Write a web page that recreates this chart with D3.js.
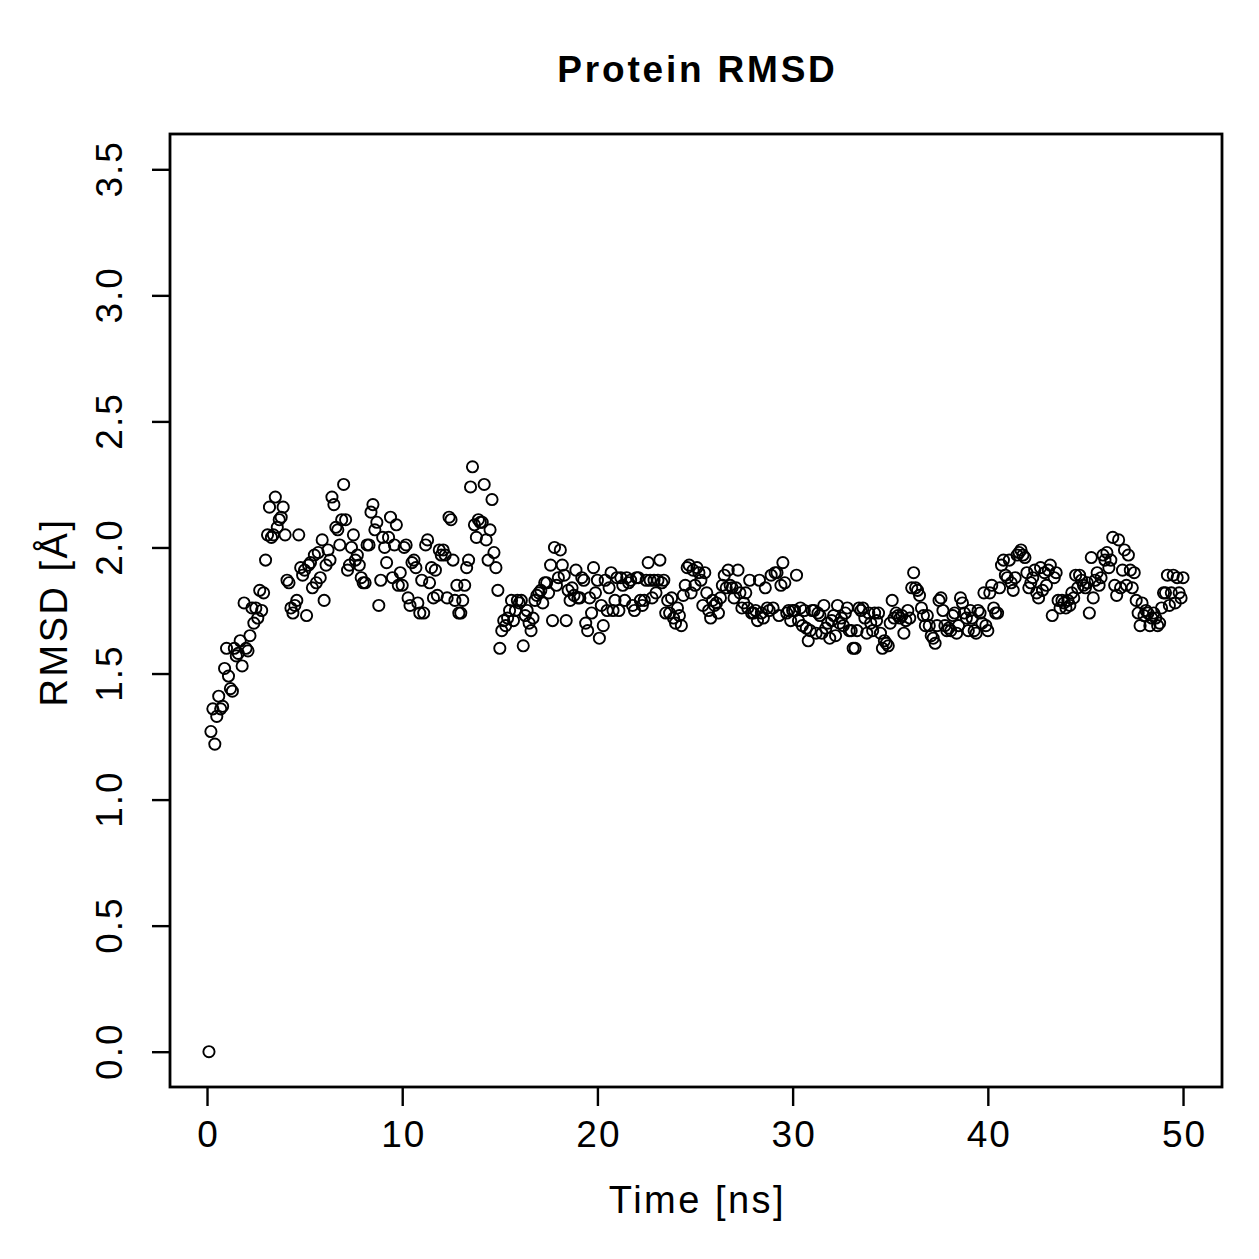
<!DOCTYPE html>
<html>
<head>
<meta charset="utf-8">
<script src="https://cdn.jsdelivr.net/npm/d3@7"></script>
<style>
  html, body { margin: 0; padding: 0; background: #fff; }
  svg { display: block; }
  text { font-family: "Liberation Sans", Arial, Helvetica, sans-serif; fill: #000; }
</style>
</head>
<body>
<svg id="chart" width="1259" height="1259"></svg>
<script>
// ---- data ----
const titleText = "Protein RMSD";
const xLabel = "Time [ns]";
const yLabel = "RMSD [Å]";
const timeStart = 0.1;   // ns, first frame
const timeStep = 0.1;    // ns between frames
const xTicks = [0, 10, 20, 30, 40, 50];
const yTicks = [0.0, 0.5, 1.0, 1.5, 2.0, 2.5, 3.0, 3.5];
const yLimits = [0, 3.5];
const rmsd = [
  0.00,1.27,1.36,1.22,1.33,1.41,1.36,1.37,1.52,1.60,
  1.49,1.44,1.43,1.60,1.57,1.58,1.63,1.53,1.78,1.60,
  1.59,1.65,1.76,1.70,1.76,1.72,1.83,1.75,1.82,1.95,
  2.05,2.16,2.04,2.05,2.20,2.08,2.11,2.12,2.16,2.05,
  1.87,1.86,1.76,1.74,1.77,1.79,2.05,1.92,1.89,1.91,
  1.73,1.93,1.94,1.84,1.97,1.86,1.98,1.88,2.03,1.79,
  1.93,1.99,1.95,2.20,2.17,2.08,2.07,2.01,2.11,2.25,
  2.11,1.91,1.93,2.00,2.05,1.95,1.97,1.93,1.88,1.86,
  1.86,2.01,2.01,2.14,2.17,2.07,2.10,1.77,1.87,2.04,
  2.00,1.94,2.04,2.12,1.88,2.01,2.09,1.85,1.90,1.85,
  2.00,2.01,1.80,1.77,1.94,1.95,1.92,1.78,1.74,1.87,
  1.74,2.01,2.03,1.86,1.92,1.80,1.91,1.81,1.99,1.97,
  1.99,1.97,1.80,2.12,2.11,1.95,1.79,1.85,1.74,1.74,
  1.79,1.85,1.92,1.95,2.24,2.32,2.09,2.04,2.11,2.10,
  2.10,2.25,2.03,1.95,2.07,2.19,1.98,1.92,1.83,1.60,
  1.67,1.71,1.69,1.72,1.75,1.79,1.71,1.75,1.79,1.78,
  1.79,1.61,1.73,1.75,1.70,1.67,1.72,1.79,1.81,1.82,
  1.83,1.78,1.86,1.86,1.82,1.93,1.71,2.00,1.85,1.88,
  1.99,1.93,1.89,1.71,1.83,1.79,1.84,1.81,1.91,1.80,
  1.80,1.88,1.87,1.70,1.67,1.80,1.74,1.92,1.82,1.87,
  1.64,1.77,1.69,1.87,1.75,1.84,1.90,1.75,1.79,1.88,
  1.75,1.88,1.85,1.79,1.88,1.86,1.87,1.77,1.75,1.88,
  1.88,1.79,1.77,1.79,1.87,1.94,1.87,1.80,1.87,1.82,
  1.87,1.95,1.86,1.87,1.74,1.79,1.74,1.80,1.72,1.70,
  1.76,1.73,1.69,1.81,1.85,1.92,1.93,1.82,1.91,1.85,
  1.92,1.90,1.87,1.77,1.90,1.82,1.75,1.72,1.79,1.77,
  1.78,1.74,1.80,1.85,1.89,1.84,1.91,1.85,1.84,1.80,
  1.84,1.91,1.82,1.76,1.78,1.82,1.76,1.87,1.74,1.74,
  1.75,1.71,1.87,1.74,1.72,1.84,1.76,1.75,1.89,1.76,
  1.90,1.90,1.73,1.85,1.94,1.86,1.74,1.75,1.71,1.75,
  1.75,1.89,1.71,1.76,1.69,1.75,1.68,1.63,1.67,1.75,
  1.75,1.66,1.74,1.73,1.66,1.77,1.68,1.70,1.64,1.71,
  1.73,1.65,1.77,1.70,1.72,1.69,1.74,1.76,1.67,1.67,
  1.60,1.60,1.67,1.76,1.75,1.76,1.72,1.66,1.74,1.70,
  1.67,1.74,1.71,1.74,1.66,1.60,1.63,1.62,1.61,1.70,
  1.79,1.72,1.74,1.73,1.72,1.73,1.66,1.71,1.75,1.72,
  1.84,1.90,1.84,1.83,1.81,1.76,1.73,1.69,1.73,1.69,
  1.65,1.64,1.62,1.69,1.79,1.80,1.75,1.69,1.67,1.68,
  1.67,1.73,1.74,1.66,1.69,1.80,1.78,1.74,1.72,1.67,
  1.75,1.72,1.67,1.66,1.75,1.74,1.70,1.82,1.69,1.67,
  1.82,1.85,1.76,1.74,1.74,1.84,1.93,1.95,1.89,1.88,
  1.95,1.86,1.83,1.88,1.97,1.98,1.99,1.97,1.96,1.90,
  1.84,1.86,1.88,1.91,1.82,1.80,1.92,1.83,1.90,1.85,
  1.91,1.93,1.73,1.88,1.90,1.79,1.76,1.79,1.78,1.76,
  1.79,1.77,1.82,1.80,1.89,1.84,1.89,1.87,1.85,1.84,
  1.86,1.74,1.96,1.80,1.87,1.90,1.85,1.88,1.97,1.95,
  1.98,1.92,1.95,2.04,1.85,1.81,2.03,1.84,1.91,1.99,
  1.85,1.97,1.91,1.84,1.90,1.79,1.74,1.69,1.78,1.73,
  1.75,1.74,1.69,1.72,1.74,1.72,1.69,1.70,1.76,1.82,
  1.82,1.89,1.77,1.82,1.89,1.78,1.88,1.82,1.80,1.88
];

// ---- layout ----
const plot = { left: 170, right: 1222, top: 134, bottom: 1087 };
const points = rmsd.map((v, i) => ({ t: +(timeStart + i * timeStep).toFixed(1), v }));

const tMin = d3.min(points, d => d.t), tMax = d3.max(points, d => d.t);
const xPad = (tMax - tMin) * 0.04;
const yPad = (yLimits[1] - yLimits[0]) * 0.04;

const x = d3.scaleLinear().domain([tMin - xPad, tMax + xPad]).range([plot.left, plot.right]);
const y = d3.scaleLinear().domain([yLimits[0] - yPad, yLimits[1] + yPad]).range([plot.bottom, plot.top]);

const svg = d3.select("#chart");

// points
svg.append("g")
  .selectAll("circle")
  .data(points)
  .join("circle")
  .attr("cx", d => x(d.t))
  .attr("cy", d => y(d.v))
  .attr("r", 5.6)
  .attr("fill", "none")
  .attr("stroke", "#000")
  .attr("stroke-width", 1.9);

// x axis
const xAxis = svg.append("g")
  .attr("transform", `translate(0,${plot.bottom})`)
  .call(d3.axisBottom(x).tickValues(xTicks).tickFormat(d3.format("d")).tickSize(19).tickPadding(8));
xAxis.select(".domain").remove();
xAxis.selectAll(".tick line").attr("stroke", "#000").attr("stroke-width", 2.4);
xAxis.selectAll(".tick text")
  .attr("font-size", 37)
  .attr("dy", null)
  .attr("y", 60)
  .attr("dx", 1)
  .style("letter-spacing", "2px")
  .style("font-family", '"Liberation Sans", Arial, sans-serif');

// y axis
const yAxis = svg.append("g")
  .attr("transform", `translate(${plot.left},0)`)
  .call(d3.axisLeft(y).tickValues(yTicks).tickFormat(d3.format(".1f")).tickSize(18));
yAxis.select(".domain").remove();
yAxis.selectAll(".tick line").attr("stroke", "#000").attr("stroke-width", 2.4);
yAxis.selectAll(".tick text")
  .attr("font-size", 37)
  .attr("x", null).attr("dy", null)
  .attr("text-anchor", "middle")
  .attr("transform", "translate(-48,0) rotate(-90)")
  .attr("dx", 1)
  .style("letter-spacing", "2px")
  .style("font-family", '"Liberation Sans", Arial, sans-serif');

// frame
svg.append("rect")
  .attr("x", plot.left).attr("y", plot.top)
  .attr("width", plot.right - plot.left).attr("height", plot.bottom - plot.top)
  .attr("fill", "none").attr("stroke", "#000").attr("stroke-width", 2.8);

// title
svg.append("text")
  .attr("x", (plot.left + plot.right) / 2 + 1.5).attr("y", 82)
  .attr("text-anchor", "middle")
  .attr("font-size", 37).attr("font-weight", "bold")
  .style("letter-spacing", "2.8px")
  .text(titleText);

// axis labels
svg.append("text")
  .attr("x", (plot.left + plot.right) / 2 + 1.5).attr("y", 1213)
  .attr("text-anchor", "middle")
  .attr("font-size", 38)
  .style("letter-spacing", "2.5px")
  .text(xLabel);

svg.append("text")
  .attr("transform", `translate(67,${(plot.top + plot.bottom) / 2 + 1.5}) rotate(-90)`)
  .attr("text-anchor", "middle")
  .attr("font-size", 38)
  .style("letter-spacing", "2.5px")
  .text(yLabel);
</script>
</body>
</html>
